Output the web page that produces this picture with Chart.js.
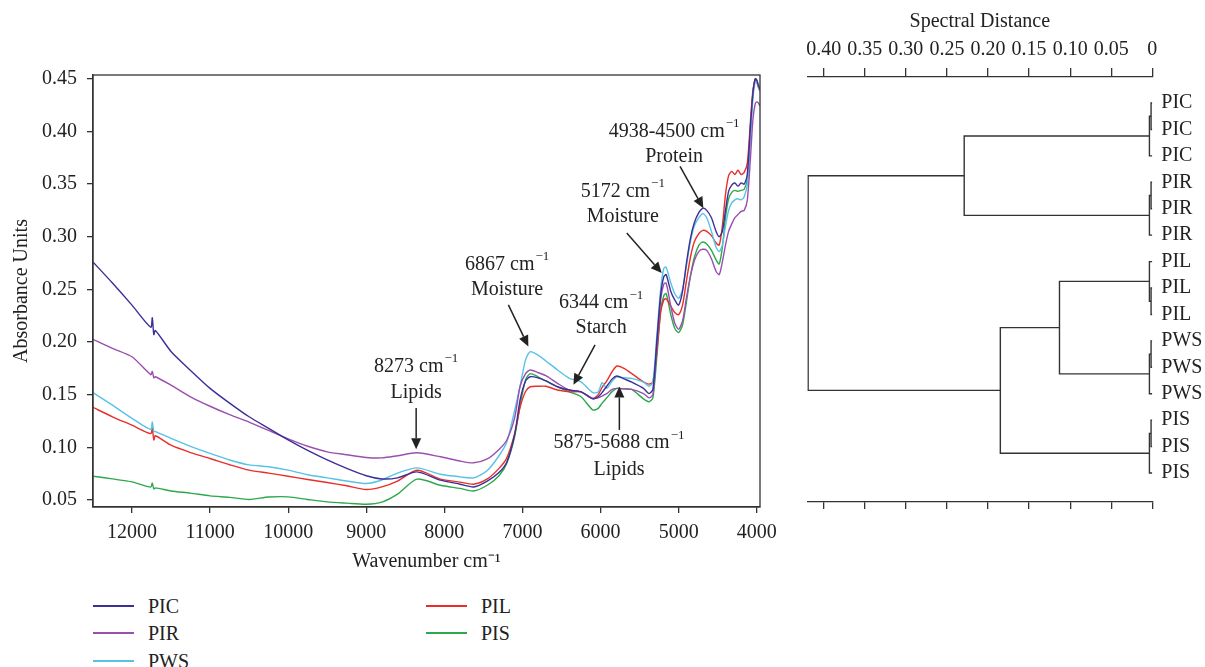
<!DOCTYPE html>
<html>
<head>
<meta charset="utf-8">
<script src="https://cdn.jsdelivr.net/npm/chart.js@4.4.1/dist/chart.umd.min.js"></script>
<style>
body{margin:0;background:#fff;width:1205px;height:667px;overflow:hidden;position:relative;font-family:'Liberation Serif','Times New Roman',serif;color:#222}
#spec{position:absolute;left:0;top:0}
#dend{position:absolute;left:790px;top:0}
.lg{position:absolute;font-size:20px;line-height:20px;height:20px;display:flex;align-items:center}
.lg i{display:inline-block;width:41px;height:2px;margin-right:14px}
</style>
</head>
<body>
<canvas id="spec" width="790" height="580"></canvas>
<canvas id="dend" width="415" height="530"></canvas>
<div id="legend"></div>
<script>
/* NIR spectra */
const seriesNames=['PIC','PIR','PWS','PIL','PIS'];
const seriesColors=['#3b2f98','#9a4fae','#56c3e6','#e8302a','#2ca94c'];
const wavenumber=[12500,12250,12000,11760,11740,11720,11700,11500,11250,11000,10750,10500,10250,10000,
  9750,9500,9250,9000,8800,8600,8350,8050,7800,7625,7450,7300,7200,7100,7030,6960,6900,
  6800,6700,6550,6400,6250,6100,6030,5980,5920,5850,5790,5700,5600,5450,5380,5330,5280,5230,5190,5160,
  5100,5050,5000,4950,4900,4850,4800,4740,4690,4640,4580,4520,4480,4440,4400,
  4360,4320,4280,4240,4200,4160,4120,4080,4050,4020,4000,3980,3958];
const pic=[0.276,0.256,0.235,0.214,0.223,0.207,0.211,0.191,0.173,0.156,0.142,0.129,0.118,0.107,
  0.097,0.088,0.080,0.073,0.070,0.071,0.0767,0.0688,0.065,0.0624,0.068,0.076,0.086,0.112,0.145,0.163,0.167,
  0.166,0.163,0.1575,0.1544,0.1527,0.146,0.148,0.152,0.158,0.165,0.1677,0.165,0.162,0.156,0.151,0.155,0.200,0.245,0.262,0.264,
  0.248,0.240,0.235,0.248,0.275,0.298,0.313,0.323,0.327,0.325,0.318,0.305,0.300,0.305,0.325,
  0.343,0.349,0.351,0.348,0.351,0.350,0.360,0.405,0.435,0.450,0.449,0.444,0.440];
const pir=[0.2026,0.194,0.186,0.169,0.172,0.166,0.167,0.159,0.148,0.139,0.131,0.124,0.116,0.108,
  0.101,0.0957,0.093,0.0904,0.090,0.092,0.0948,0.091,0.087,0.0853,0.089,0.098,0.107,0.128,0.158,0.170,0.1734,
  0.171,0.168,0.1607,0.1544,0.1527,0.1465,0.147,0.1487,0.151,0.155,0.156,0.1555,0.155,0.151,0.147,0.150,0.195,0.240,0.255,0.256,
  0.234,0.218,0.212,0.220,0.242,0.262,0.277,0.286,0.288,0.287,0.279,0.267,0.264,0.276,0.292,
  0.305,0.312,0.318,0.321,0.324,0.325,0.335,0.375,0.410,0.426,0.428,0.427,0.424];
const pws=[0.152,0.140,0.1275,0.117,0.124,0.115,0.115,0.1085,0.101,0.0942,0.088,0.0833,0.0815,0.0783,
  0.074,0.071,0.068,0.0656,0.069,0.0755,0.0805,0.0745,0.072,0.071,0.078,0.092,0.105,0.135,0.158,0.183,0.1908,
  0.1875,0.182,0.1734,0.1655,0.1622,0.152,0.1525,0.1613,0.156,0.163,0.167,0.166,0.1655,0.162,0.158,0.162,0.205,0.250,0.270,0.271,
  0.256,0.246,0.2415,0.250,0.272,0.295,0.310,0.318,0.322,0.318,0.305,0.290,0.2858,0.292,0.310,
  0.325,0.332,0.335,0.336,0.335,0.338,0.350,0.395,0.430,0.447,0.447,0.443,0.438];
const pil=[0.138,0.129,0.121,0.113,0.118,0.107,0.111,0.102,0.095,0.0894,0.0835,0.0783,0.0755,0.0726,
  0.0695,0.0666,0.0635,0.060,0.0625,0.068,0.0783,0.0698,0.067,0.065,0.070,0.080,0.090,0.113,0.138,0.153,0.1575,
  0.158,0.158,0.1544,0.1527,0.1527,0.1465,0.150,0.157,0.163,0.172,0.1772,0.175,0.170,0.1622,0.160,0.162,0.190,0.228,0.240,0.241,
  0.234,0.228,0.226,0.235,0.258,0.280,0.295,0.303,0.306,0.305,0.301,0.294,0.292,0.310,0.340,
  0.358,0.362,0.359,0.363,0.359,0.361,0.370,0.410,0.438,0.449,0.447,0.442,0.438];
const pis=[0.0726,0.070,0.0672,0.0622,0.066,0.0605,0.0615,0.0586,0.0565,0.0539,0.0525,0.0505,0.0528,0.053,
  0.0505,0.0482,0.047,0.046,0.048,0.0555,0.0698,0.064,0.061,0.0586,0.064,0.073,0.085,0.110,0.140,0.164,0.170,
  0.167,0.163,0.1575,0.1527,0.148,0.1355,0.137,0.142,0.147,0.153,0.156,0.1555,0.155,0.146,0.1433,0.147,0.185,0.230,0.244,0.246,
  0.226,0.213,0.209,0.216,0.238,0.262,0.280,0.292,0.295,0.293,0.287,0.278,0.274,0.290,0.318,
  0.336,0.342,0.344,0.343,0.344,0.345,0.355,0.400,0.435,0.449,0.448,0.443,0.440];
const absorbance=[pic,pir,pws,pil,pis];
const xTicks=[12000,11000,10000,9000,8000,7000,6000,5000,4000];
const yTicks=[0.05,0.10,0.15,0.20,0.25,0.30,0.35,0.40,0.45];

// band notes: label centre (wavenumber, line1, line2), arrow tail and tip
const notes=[
  {head:'8273',body:'Lipids',at:[8361,0.1767,0.1514],from:[8361,0.1374],to:[8361,0.0982]},
  {head:'6867',body:'Moisture',at:[7196,0.2733,0.2495],from:[7180,0.2353],to:[6924,0.1957]},
  {head:'6344',body:'Starch',at:[5993,0.2369,0.2137],from:[6070,0.1973],to:[6347,0.1593]},
  {head:'5875-5688',body:'Lipids',at:[5763,0.1039,0.0785],from:[5759,0.1165],to:[5759,0.1577]},
  {head:'5172',body:'Moisture',at:[5715,0.3429,0.3192],from:[5664,0.3034],to:[5216,0.2654]},
  {head:'4938-4500',body:'Protein',at:[5058,0.3999,0.3762],from:[4982,0.3667],to:[4683,0.3271]}
];

/* dendrogram */
const leafLabels=['PIC','PIC','PIC','PIR','PIR','PIR','PIL','PIL','PIL','PWS','PWS','PWS','PIS','PIS','PIS'];
const merges=[[0,1,0.0015],[15,2,0.0035],[3,4,0.0015],[17,5,0.0035],[7,8,0.0015],[6,19,0.0035],
  [9,10,0.0015],[21,11,0.0035],[12,13,0.0015],[23,14,0.0035],[16,18,0.229],[20,22,0.113],[26,24,0.185],[25,27,0.419]];
const distanceTicks=[0,0.05,0.10,0.15,0.20,0.25,0.30,0.35,0.40];

const FONT="'Liberation Serif','Times New Roman',serif";
const INK='#333';
Chart.defaults.font.family=FONT;
Chart.defaults.font.size=20;
Chart.defaults.color='#222';

const boxPlugin={id:'box',afterDraw(chart){
  const {ctx,chartArea:a}=chart;
  ctx.save();ctx.strokeStyle=INK;ctx.lineWidth=1.3;
  ctx.strokeRect(a.left,a.top,a.right-a.left,a.bottom-a.top);
  ctx.restore();
}};

function supText(ctx,text,sup,cx,cy){
  ctx.font='20px '+FONT;
  const w1=ctx.measureText(text).width;
  ctx.font='13px '+FONT;
  const w2=ctx.measureText(sup).width;
  const x=cx-(w1+w2+1)/2;
  ctx.textAlign='left';ctx.textBaseline='middle';
  ctx.font='20px '+FONT;ctx.fillText(text,x,cy);
  ctx.font='13px '+FONT;ctx.fillText(sup,x+w1+1,cy-8);
}

const notePlugin={id:'notes',afterDatasetsDraw(chart){
  const {ctx,scales:{x,y}}=chart;
  ctx.save();
  ctx.fillStyle='#222';ctx.strokeStyle='#222';ctx.lineWidth=1.5;
  notes.forEach(n=>{
    const cx=x.getPixelForValue(n.at[0]);
    supText(ctx,n.head+' cm','\u22121',cx,y.getPixelForValue(n.at[1]));
    ctx.font='20px '+FONT;ctx.textAlign='center';
    ctx.fillText(n.body,cx,y.getPixelForValue(n.at[2]));
    const x0=x.getPixelForValue(n.from[0]),y0=y.getPixelForValue(n.from[1]);
    const x1=x.getPixelForValue(n.to[0]),y1=y.getPixelForValue(n.to[1]);
    const ang=Math.atan2(y1-y0,x1-x0),hl=11,hw=5;
    const bx=x1-hl*Math.cos(ang),by=y1-hl*Math.sin(ang);
    ctx.beginPath();ctx.moveTo(x0,y0);ctx.lineTo(bx,by);ctx.stroke();
    ctx.beginPath();ctx.moveTo(x1,y1);
    ctx.lineTo(bx+hw*Math.sin(ang),by-hw*Math.cos(ang));
    ctx.lineTo(bx-hw*Math.sin(ang),by+hw*Math.cos(ang));
    ctx.closePath();ctx.fill();
  });
  ctx.restore();
}};

const spec=new Chart(document.getElementById('spec'),{
  type:'line',
  data:{datasets:seriesNames.map((name,i)=>({
    label:name,
    data:wavenumber.map((w,j)=>({x:w,y:absorbance[i][j]})),
    borderColor:seriesColors[i],borderWidth:1.4,pointRadius:0,tension:0.25,fill:false
  }))},
  options:{
    responsive:false,animation:false,devicePixelRatio:1,
    layout:{padding:{left:0,top:75,right:30,bottom:0}},
    plugins:{legend:{display:false},tooltip:{enabled:false}},
    scales:{
      x:{type:'linear',reverse:true,min:3958,max:12499,
        afterBuildTicks:s=>{s.ticks=xTicks.map(v=>({value:v}));},
        afterFit:s=>{s.height=73;},
        grid:{drawOnChartArea:false,drawTicks:true,tickLength:6,color:INK,lineWidth:1.3},
        border:{display:true,color:INK,width:1.3},
        ticks:{padding:8,maxRotation:0,autoSkip:false,callback:v=>String(v)},
        title:{display:true,text:'Wavenumber cm\u207B\u00B9',padding:{top:0,bottom:6}}
      },
      y:{type:'linear',min:0.04335,max:0.4535,
        afterBuildTicks:s=>{s.ticks=yTicks.map(v=>({value:v}));},
        afterFit:s=>{s.width=93;},
        grid:{drawOnChartArea:false,drawTicks:true,tickLength:6,color:INK,lineWidth:1.3},
        border:{display:true,color:INK,width:1.3},
        ticks:{padding:10,autoSkip:false,callback:v=>v.toFixed(2)},
        title:{display:true,text:'Absorbance Units',padding:{top:10,bottom:0}}
      }
    }
  },
  plugins:[boxPlugin,notePlugin]
});

// legend: two columns, filled top to bottom
const legendCols=[93,426];
const legendRows=[605.7,633.3,661];
const lg=document.getElementById('legend');
spec.data.datasets.forEach((ds,i)=>{
  const col=i<3?0:1,row=i<3?i:i-3;
  const d=document.createElement('div');
  d.className='lg';
  d.style.left=legendCols[col]+'px';
  d.style.top=(legendRows[row]-10)+'px';
  d.innerHTML=`<i style="background:${ds.borderColor}"></i><span>${ds.label}</span>`;
  lg.appendChild(d);
});

// dendrogram links from the merge table
const nodes=leafLabels.map((_,i)=>({x:0,y:i}));
const links=merges.map(([a,b,d])=>{
  const A=nodes[a],B=nodes[b];
  nodes.push({x:d,y:(A.y+B.y)/2});
  return [{x:A.x,y:A.y},{x:d,y:A.y},{x:d,y:B.y},{x:B.x,y:B.y}];
});

const fmtDist=v=>v===0?'0':v.toFixed(2);
new Chart(document.getElementById('dend'),{
  type:'scatter',
  data:{datasets:links.map(pts=>({data:pts,showLine:true,borderColor:INK,borderWidth:1.4,pointRadius:0,tension:0}))},
  options:{
    responsive:false,animation:false,devicePixelRatio:1,
    layout:{padding:{left:17.3,top:0,right:0,bottom:0}},
    plugins:{legend:{display:false},tooltip:{enabled:false}},
    scales:{
      x:{type:'linear',position:'top',reverse:true,min:0,max:0.42,
        afterBuildTicks:s=>{s.ticks=distanceTicks.map(v=>({value:v}));},
        afterFit:s=>{s.height=77;},
        grid:{drawOnChartArea:false,drawTicks:true,tickLength:9,color:INK,lineWidth:1.3},
        border:{display:true,color:INK,width:1.3},
        ticks:{padding:6,maxRotation:0,autoSkip:false,callback:fmtDist},
        title:{display:true,text:'Spectral Distance',padding:{top:10,bottom:0}}
      },
      x2:{type:'linear',position:'bottom',reverse:true,min:0,max:0.42,
        afterBuildTicks:s=>{s.ticks=distanceTicks.map(v=>({value:v}));},
        afterFit:s=>{s.height=28;},
        grid:{drawOnChartArea:false,drawTicks:true,tickLength:7,color:INK,lineWidth:1.3},
        border:{display:true,color:INK,width:1.3},
        ticks:{display:false}
      },
      y:{type:'linear',position:'right',reverse:true,min:-0.984,max:15.097,
        afterBuildTicks:s=>{s.ticks=leafLabels.map((_,i)=>({value:i}));},
        afterFit:s=>{s.width=52.7;},
        grid:{display:false,drawTicks:false},
        border:{display:false},
        ticks:{padding:9,autoSkip:false,callback:(v,i)=>leafLabels[i]}
      }
    }
  }
});
</script>
</body>
</html>
